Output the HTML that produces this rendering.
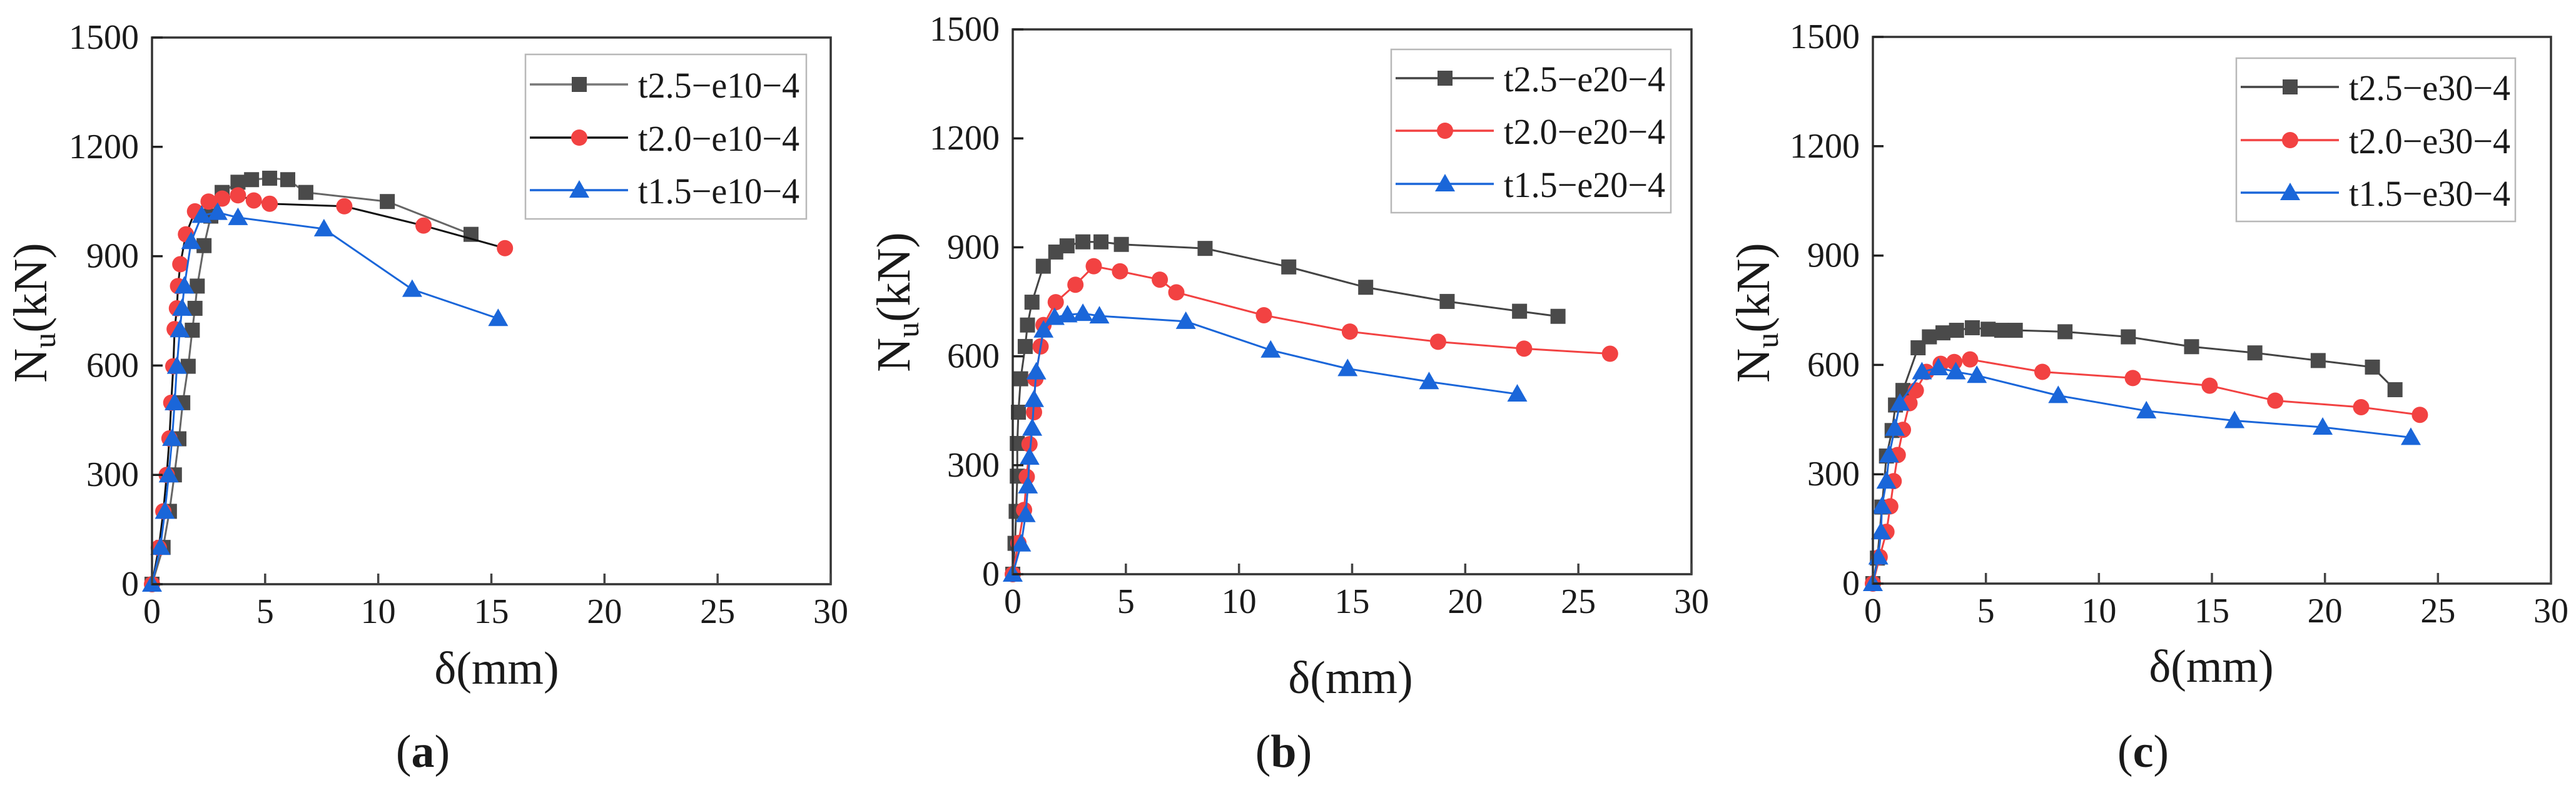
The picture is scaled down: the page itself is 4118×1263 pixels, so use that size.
<!DOCTYPE html>
<html><head><meta charset="utf-8">
<style>
html,body{margin:0;padding:0;background:#fff;}
svg{display:block;}
svg text{font-family:"Liberation Serif","DejaVu Serif",serif !important;fill:#1a1a1a;}
</style></head>
<body>
<svg id="fig" width="4118" height="1263" viewBox="0 0 4118 1263" font-family="Liberation Serif, DejaVu Serif, serif" xmlns="http://www.w3.org/2000/svg"></svg>
<script>
// ---- Panel (a) data ----
const aSq_x = [0,0.49,0.77,0.99,1.19,1.36,1.6,1.78,1.9,2.0,2.3,2.6,3.1,3.8,4.4,5.2,6.0,6.8,10.4,14.1];
const aSq_y = [0,101,200,300,399,498,598,697,757,818,929,1010,1075,1103,1110,1114,1110,1075,1050,960];
const aCi_x = [0,0.3,0.5,0.65,0.77,0.85,0.94,1.0,1.1,1.15,1.25,1.5,1.9,2.5,3.1,3.8,4.5,5.2,8.5,12.0,15.6];
const aCi_y = [0,100,200,300,400,498,598,700,757,818,878,960,1023,1050,1058,1067,1053,1044,1037,984,922];
const aTr_x = [0,0.37,0.57,0.74,0.89,1.0,1.1,1.23,1.33,1.43,1.73,2.2,2.9,3.8,7.6,11.5,15.3];
const aTr_y = [0,101,200,300,400,498,598,698,757,818,940,1012,1020,1006,975,809,729];
// ---- Panel (b) data ----
const bSq_x = [0,0.1,0.15,0.2,0.2,0.25,0.35,0.55,0.65,0.85,1.35,1.9,2.4,3.1,3.9,4.8,8.5,12.2,15.6,19.2,22.4,24.1];
const bSq_y = [0,85,173,270,360,446,538,627,686,749,848,887,904,915,915,908,897,846,790,751,724,710];
const bCi_x = [0,0.25,0.5,0.62,0.74,0.94,1.0,1.23,1.36,1.9,2.77,3.58,4.74,6.5,7.23,11.1,14.9,18.8,22.6,26.4];
const bCi_y = [0,86,177,268,358,446,538,627,686,749,797,848,834,811,776,713,668,640,621,607];
const bTr_x = [0,0.37,0.57,0.67,0.74,0.86,0.94,1.04,1.36,1.85,2.42,3.1,3.83,7.65,11.4,14.8,18.4,22.3];
const bTr_y = [0,83,164,243,322,402,481,557,672,707,714,718,711,696,617,566,530,496];
// ---- Panel (c) data ----
const cSq_x = [0,0.2,0.4,0.6,0.85,1.0,1.33,2.0,2.5,3.1,3.7,4.4,5.1,5.7,6.3,8.5,11.3,14.1,16.9,19.7,22.1,23.1];
const cSq_y = [0,70,210,350,420,490,530,647,677,688,695,702,698,695,695,691,677,650,633,612,594,532];
const cCi_x = [0,0.3,0.6,0.77,0.92,1.1,1.33,1.62,1.9,2.37,3.0,3.6,4.3,7.5,11.5,14.9,17.8,21.6,24.2];
const cCi_y = [0,73,142,212,281,353,422,495,530,581,603,608,615,581,564,543,502,484,463];
const cTr_x = [0,0.24,0.36,0.4,0.6,0.72,0.97,1.2,2.17,2.9,3.67,4.6,8.2,12.1,16.0,19.9,23.8];
const cTr_y = [0,73,142,212,281,353,426,495,581,592,581,571,516,474,447,429,401];

const xTicks = [0,5,10,15,20,25,30];
const yTicks = [0,300,600,900,1200,1500];

const NS = "http://www.w3.org/2000/svg";
const FONT = '"Liberation Serif", "DejaVu Serif", serif';
const svg = document.getElementById('fig');
function el(tag, attrs, parent){
  const e = document.createElementNS(NS, tag);
  for (const k in attrs) e.setAttribute(k, attrs[k]);
  if (tag === 'text') e.style.fontFamily = FONT;
  (parent||svg).appendChild(e);
  return e;
}
const GRAY = "#4a4a4a", RED = "#f24242", BLUE = "#1a66d9";

const panels = [
  {id:'a', x0:243, x1:1328, y0:934, y1:60, legend:[840,87,1289,350], rows:[135,220,304],
   series:[[aSq_x,aSq_y,'sq','#666',GRAY,'t2.5−e10−4'],[aCi_x,aCi_y,'ci','#111',RED,'t2.0−e10−4'],[aTr_x,aTr_y,'tr',BLUE,BLUE,'t1.5−e10−4']],
   ytitle:[48,500], xtitle:[794,1093], cap:[676,1226]},
  {id:'b', x0:1619, x1:2704, y0:918, y1:47, legend:[2224,79,2671,340], rows:[125,209,294],
   series:[[bSq_x,bSq_y,'sq','#444',GRAY,'t2.5−e20−4'],[bCi_x,bCi_y,'ci',RED,RED,'t2.0−e20−4'],[bTr_x,bTr_y,'tr',BLUE,BLUE,'t1.5−e20−4']],
   ytitle:[1428,483], xtitle:[2159,1108], cap:[2052,1226]},
  {id:'c', x0:2994, x1:4078, y0:933, y1:59, legend:[3575,93,4021,354], rows:[139,224,308],
   series:[[cSq_x,cSq_y,'sq','#444',GRAY,'t2.5−e30−4'],[cCi_x,cCi_y,'ci',RED,RED,'t2.0−e30−4'],[cTr_x,cTr_y,'tr',BLUE,BLUE,'t1.5−e30−4']],
   ytitle:[2802,500], xtitle:[3535,1090], cap:[3426,1226]}
];

function marker(g, type, cx, cy, color, name){
  let m;
  if (type==='sq') m = el('rect',{x:cx-12,y:cy-12,width:24,height:24,fill:color},g);
  else if (type==='ci') m = el('circle',{cx:cx,cy:cy,r:13,fill:color},g);
  else m = el('polygon',{points:`${cx},${cy-16} ${cx+16},${cy+12} ${cx-16},${cy+12}`,fill:color},g);
  
  
  return m;
}

panels.forEach(p=>{
  const sx = v => p.x0 + (p.x1-p.x0)*v/30;
  const sy = v => p.y0 - (p.y0-p.y1)*v/1500;
  const g = el('g',{});
  
  

  p.series.forEach((s,i)=>{
    const [xs,ys,type,lc,mc] = s;
    const sg = el('g',{},g);
    
    
    const pts = xs.map((x,k)=>sx(x)+','+sy(ys[k])).join(' ');
    const pl = el('polyline',{points:pts,fill:'none',stroke:lc,'stroke-width':3},sg);
    
    
    xs.forEach((x,k)=>marker(sg,type,sx(x),sy(ys[k]),mc,'data-point'));
  });

  const fr = el('rect',{x:p.x0,y:p.y1,width:p.x1-p.x0,height:p.y0-p.y1,fill:'none',stroke:'#333','stroke-width':3.5},g);
  
  

  xTicks.forEach(t=>{
    const x = sx(t);
    const tk = el('line',{x1:x,y1:p.y0,x2:x,y2:p.y0-17,stroke:'#444','stroke-width':3.5},g);
    
    
    const tl = el('text',{x:x,y:p.y0+62,'text-anchor':'middle','font-size':56,'font-family':FONT},g);
    tl.textContent = t;
    
    
  });
  yTicks.forEach(t=>{
    const y = sy(t);
    const tk = el('line',{x1:p.x0,y1:y,x2:p.x0+17,y2:y,stroke:'#222','stroke-width':3.5},g);
    
    
    const tl = el('text',{x:p.x0-21,y:y+18,'text-anchor':'end','font-size':56,'font-family':FONT},g);
    tl.textContent = t;
    
    
  });

  const yt = el('text',{x:0,y:0,'text-anchor':'middle','font-size':76,'font-family':FONT,transform:`translate(${p.ytitle[0]+26},${p.ytitle[1]}) rotate(-90)`},g);
  yt.innerHTML = 'N<tspan font-size="50" dy="14">u</tspan><tspan dy="-14">(kN)</tspan>';
  
  
  const xt = el('text',{x:p.xtitle[0],y:p.xtitle[1],'text-anchor':'middle','font-size':74,'font-family':FONT},g);
  xt.textContent = 'δ(mm)';
  
  
  const cp = el('text',{x:p.cap[0],y:p.cap[1],'text-anchor':'middle','font-size':74,'font-family':FONT},g);
  cp.innerHTML = '(<tspan font-weight="bold">'+p.id+'</tspan>)';
  
  

  const [lx0,ly0,lx1,ly1] = p.legend;
  const lg = el('g',{},g);
  
  
  const lb = el('rect',{x:lx0,y:ly0,width:lx1-lx0,height:ly1-ly0,fill:'#fff',stroke:'#b8b8b8','stroke-width':2.5},lg);
  
  
  p.series.forEach((s,i)=>{
    const y = p.rows[i];
    const eg = el('g',{},lg);
    
    
    el('line',{x1:lx0+7,y1:y,x2:lx0+164,y2:y,stroke:s[3]==='#666'?'#777':s[3],'stroke-width':3.5},eg);
    marker(eg,s[2],lx0+86,y,s[4],'legend-marker');
    const tx = el('text',{x:lx0+180,y:y+21,'font-size':58,'font-family':FONT,textLength:258,lengthAdjust:'spacingAndGlyphs'},eg);
    tx.textContent = s[5];
    
    
  });
});
</script>
</body></html>
